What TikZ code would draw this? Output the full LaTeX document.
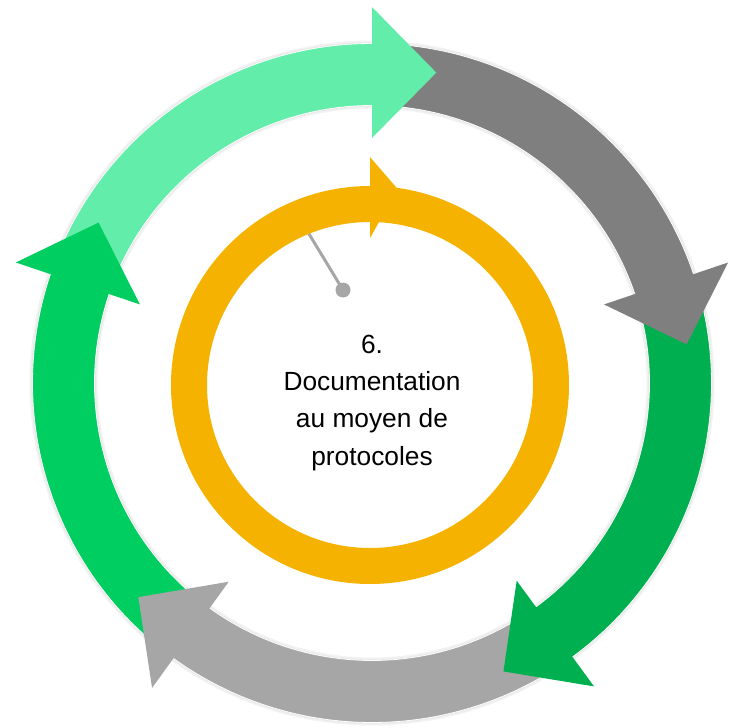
\documentclass[tikz,border=0pt]{standalone}
\usepackage{fontspec}
\setmainfont{Liberation Sans}
\definecolor{lgreen}{RGB}{98,237,170}
\definecolor{dgray}{RGB}{127,127,127}
\definecolor{dgreen}{RGB}{0,176,80}
\definecolor{lgray}{RGB}{166,166,166}
\definecolor{mgreen}{RGB}{0,206,96}
\definecolor{orng}{RGB}{246,178,0}
\newcommand\bandpath[2]{(#1:339.5) arc[start angle=#1, end angle=#2, radius=339.5] -- (#2:277.5) arc[start angle=#2, end angle=#1, radius=277.5] -- cycle}
\newcommand\headpath[1]{(#1:245) -- (#1:376) -- ({#1-11.7}:317) -- cycle}
\begin{document}
\begin{tikzpicture}[x=1pt,y=-1pt,
  shadowA/.style={draw=black!5, line width=6pt, line join=round},
  shadowB/.style={draw=black!9, line width=2.5pt, line join=round},
  bandfill/.style={fill=#1, draw=white, line width=0.8pt},
  headfill/.style={fill=#1},
  txt/.style={font=\fontsize{26.3}{37.2}\selectfont, align=center, inner sep=0pt, text=black}]
\useasboundingbox (0,0) rectangle (734,728);
\begin{scope}[shift={(372,383)}, yscale=-1]
  % soft shadows
  \foreach \a/\b in {155.8/89, 84.5/17.7, 13.2/-54.8, -59.3/-126.8, -131.3/-199.7}{
    \path[shadowA] \bandpath{\a}{\b};
    \path[shadowB] \bandpath{\a}{\b};
  }
  % bands
  \path[bandfill=lgreen] \bandpath{155.8}{89};
  \path[bandfill=dgray]  \bandpath{84.5}{17.7};
  \path[bandfill=dgreen] \bandpath{13.2}{-54.8};
  \path[bandfill=lgray]  \bandpath{-59.3}{-126.8};
  \path[bandfill=mgreen] \bandpath{-131.3}{-199.7};
  % heads
  \path[headfill=lgreen] \headpath{90};
  \path[headfill=dgray]  \headpath{18.7};
  \path[headfill=dgreen] \headpath{-53.8};
  \path[headfill=lgray]  \headpath{-125.8};
  \path[headfill=mgreen] \headpath{161.3};
\end{scope}
% needle
\coordinate (n1) at (303,224);
\node[circle, fill=lgray, minimum size=15pt, inner sep=0pt] (knob) at (343,290) {};
\draw[lgray, line width=3pt] (n1) -- (knob.center);
% orange ring
\coordinate (O) at (370,385);
\draw[orng, line width=36pt] (O) circle[radius=181];
\begin{scope}[shift={(370,385)}, yscale=-1]
  \fill[orng] (90:147) -- (90:228) -- (82:198) -- cycle;
\end{scope}
% text
\node[txt, anchor=north] (lbl) at (372,335) {6.\\Documentation\\au moyen de\\protocoles};
\end{tikzpicture}
\end{document}
